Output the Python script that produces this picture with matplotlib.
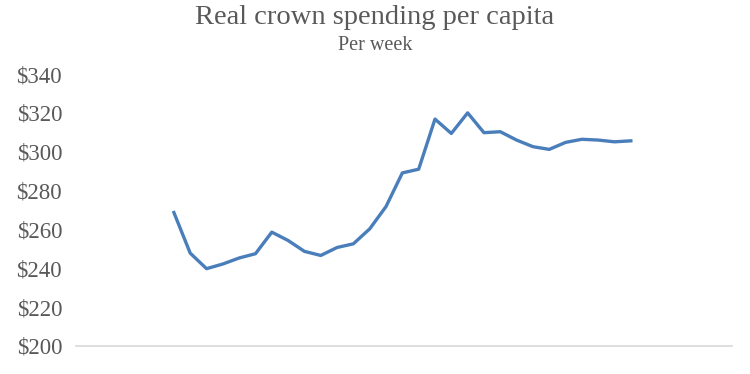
import matplotlib
matplotlib.use("Agg")
import matplotlib.pyplot as plt

# Category positions (data in category slots 6..34)
positions = list(range(6, 35))
spending = [268.7, 247.8, 239.8, 242.2, 245.3, 247.5, 258.6, 254.3, 248.7, 246.6,
            250.7, 252.6, 260.3, 271.8, 289.1, 291.0, 316.8, 309.4, 320.0, 309.8,
            310.3, 306.0, 302.6, 301.2, 304.8, 306.4, 306.0, 305.1, 305.6]
y_ticks = [200, 220, 240, 260, 280, 300, 320, 340]
y_labels = ["$" + str(v) for v in y_ticks]

title = "Real crown spending per capita"
subtitle = "Per week"

plt.rcParams['font.family'] = ['Liberation Serif', 'DejaVu Serif']
fig = plt.figure(figsize=(7.5, 3.74), dpi=100)
ax = fig.add_axes([0.1013, 0.0749, 0.8747, 0.7272])

ax.plot(positions, spending, color="#4a7ebb", lw=2.4, solid_joinstyle="round")
ax.set_xlim(0, 40.2)
ax.set_ylim(200, 340)
ax.set_yticks(y_ticks)
ax.set_yticklabels(y_labels, fontsize=16.5, color="#595959")
ax.set_xticks([])
ax.tick_params(axis="y", length=0, pad=10)
for s in ["top", "right", "left"]:
    ax.spines[s].set_visible(False)
ax.spines["bottom"].set_color("#d9d9d9")
ax.spines["bottom"].set_linewidth(1.2)

fig.text(0.5, 0.952, title, ha="center", va="center", fontsize=20.5, color="#595959")
fig.text(0.5, 0.878, subtitle, ha="center", va="center", fontsize=14.5, color="#595959")

fig.savefig("out.png", dpi=100, facecolor="white")
